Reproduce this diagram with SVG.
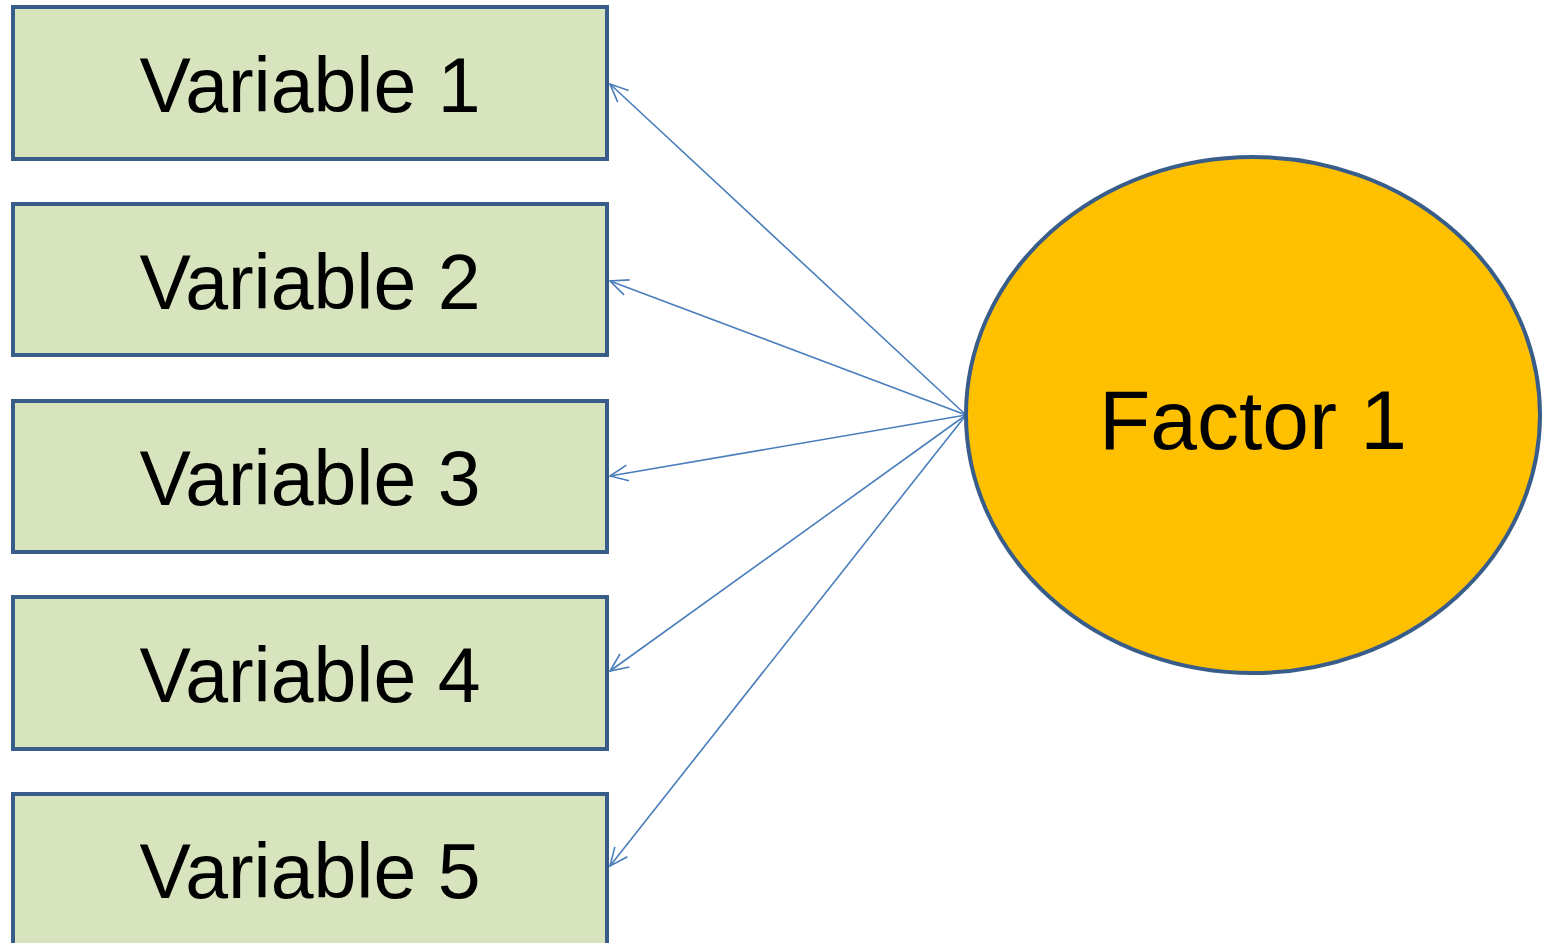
<svg xmlns="http://www.w3.org/2000/svg" width="1542" height="943" viewBox="0 0 1542 943">
<style>
.box{fill:#d7e4bd;stroke:#385d8a;stroke-width:4}
.lbl{font-family:"Liberation Sans",Arial,sans-serif;font-size:77px;fill:#000;text-anchor:middle}
.conn{stroke:#4a7ebb;stroke-width:1.6;fill:none;marker-end:url(#arr)}
</style>
<defs>
<marker id="arr" markerUnits="userSpaceOnUse" markerWidth="24" markerHeight="24" viewBox="-20 -10 24 20" refX="0" refY="0" orient="auto">
<path d="M-18,-8 L0,0 L-18,8" fill="none" stroke="#4a7ebb" stroke-width="1.6"/>
</marker>
</defs>
<rect width="1542" height="943" fill="#fff"/>
<g id="connectors">
<line class="conn" x1="966" y1="415" x2="610" y2="84"/>
<line class="conn" x1="966" y1="415" x2="610" y2="281"/>
<line class="conn" x1="966" y1="415" x2="610" y2="476"/>
<line class="conn" x1="966" y1="415" x2="610" y2="671"/>
<line class="conn" x1="966" y1="415" x2="610" y2="866"/>
</g>
<g id="var1"><rect class="box" x="13" y="7" width="594" height="152"/><text class="lbl" x="310" y="112">Variable 1</text></g>
<g id="var2"><rect class="box" x="13" y="204" width="594" height="151"/><text class="lbl" x="310" y="309">Variable 2</text></g>
<g id="var3"><rect class="box" x="13" y="401" width="594" height="151"/><text class="lbl" x="310" y="505">Variable 3</text></g>
<g id="var4"><rect class="box" x="13" y="597" width="594" height="152"/><text class="lbl" x="310" y="702">Variable 4</text></g>
<g id="var5"><rect class="box" x="13" y="794" width="594" height="152"/><text class="lbl" x="310" y="898">Variable 5</text></g>
<g id="factor1"><ellipse cx="1253" cy="415" rx="287" ry="258" fill="#ffc000" stroke="#385d8a" stroke-width="4"/><text x="1253" y="449" font-family="Liberation Sans,Arial,sans-serif" font-size="84" text-anchor="middle" fill="#000">Factor 1</text></g>
</svg>
